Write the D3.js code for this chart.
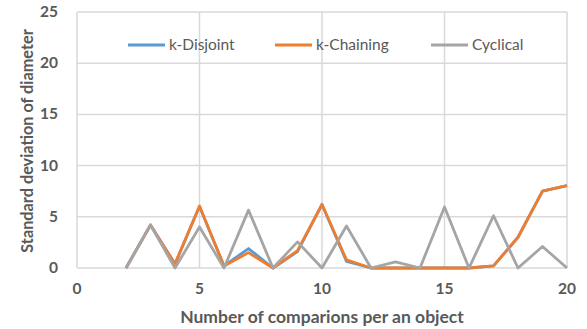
<!DOCTYPE html>
<html>
<head>
<meta charset="utf-8">
<script src="https://cdn.jsdelivr.net/npm/d3@7"></script>
<style>
  body { margin: 0; background: #fff; }
  text { font-family: Lato, "Open Sans", sans-serif; fill: #595959; }
</style>
</head>
<body>
<svg id="chart"></svg>
<script>
// data
const xValues = [2, 3, 4, 5, 6, 7, 8, 9, 10, 11, 12, 13, 14, 15, 16, 17, 18, 19, 20];
const kDisjoint = [0, 4.2, 0.4, 6.0, 0.2, 1.9, 0, 1.6, 6.2, 0.65, 0, 0, 0, 0, 0, 0.2, 3.0, 7.5, 8.05];
const kChaining = [0, 4.2, 0.4, 6.05, 0.2, 1.5, 0, 1.7, 6.2, 0.8, 0, 0, 0, 0, 0, 0.2, 3.0, 7.5, 8.05];
const cyclical = [0, 4.2, 0, 4.0, 0, 5.65, 0, 2.55, 0, 4.1, 0, 0.6, 0, 5.95, 0, 5.1, 0, 2.1, 0];
const xTicks = [0, 5, 10, 15, 20];
const yTicks = [0, 5, 10, 15, 20, 25];
const seriesNames = ["k-Disjoint", "k-Chaining", "Cyclical"];
const seriesColors = ["#5B9BD5", "#ED7D31", "#A5A5A5"];

const width = 587, height = 329;
const margin = { top: 12, right: 20, bottom: 61, left: 77 };

const svg = d3.select("#chart")
    .attr("width", width)
    .attr("height", height);

const x = d3.scaleLinear().domain([0, 20]).range([margin.left, width - margin.right]);
const y = d3.scaleLinear().domain([0, 25]).range([height - margin.bottom, margin.top]);

// gridlines
svg.append("g")
    .selectAll("line")
    .data(yTicks)
    .join("line")
    .attr("x1", x(0)).attr("x2", x(20))
    .attr("y1", d => y(d)).attr("y2", d => y(d))
    .attr("stroke", "#d9d9d9").attr("stroke-width", 1.5);

svg.append("g")
    .selectAll("line")
    .data(xTicks)
    .join("line")
    .attr("x1", d => x(d)).attr("x2", d => x(d))
    .attr("y1", y(0)).attr("y2", y(25))
    .attr("stroke", "#d9d9d9").attr("stroke-width", 1.5);

// tick labels
svg.append("g")
    .selectAll("text")
    .data(yTicks)
    .join("text")
    .attr("x", margin.left - 19)
    .attr("y", d => y(d) + 5)
    .attr("text-anchor", "end")
    .attr("font-size", 15.5)
    .attr("font-weight", "bold")
    .text(d => d);

svg.append("g")
    .selectAll("text")
    .data(xTicks)
    .join("text")
    .attr("x", d => x(d))
    .attr("y", y(0) + 26)
    .attr("text-anchor", "middle")
    .attr("font-size", 15.5)
    .attr("font-weight", "bold")
    .text(d => d);

// axis titles
svg.append("text")
    .attr("x", (x(0) + x(20)) / 2)
    .attr("y", 323)
    .attr("text-anchor", "middle")
    .attr("font-size", 17.5)
    .attr("font-weight", "bold")
    .text("Number of comparions per an object");

svg.append("text")
    .attr("transform", `translate(33, ${(y(0) + y(25)) / 2 + 1}) rotate(-90)`)
    .attr("text-anchor", "middle")
    .attr("font-size", 16.3)
    .attr("font-weight", "bold")
    .text("Standard deviation of diameter");

// series
const line = d3.line()
    .x((d, i) => x(xValues[i]))
    .y(d => y(d));

const allSeries = [kDisjoint, kChaining, cyclical];

svg.append("g")
    .selectAll("path")
    .data(allSeries)
    .join("path")
    .attr("d", line)
    .attr("fill", "none")
    .attr("stroke", (d, i) => seriesColors[i])
    .attr("stroke-width", 2.8)
    .attr("stroke-linejoin", "round");

// legend
const legendX = [128, 275, 431];
const legend = svg.append("g")
    .selectAll("g")
    .data(seriesNames)
    .join("g")
    .attr("transform", (d, i) => `translate(${legendX[i]}, 45)`);

legend.append("line")
    .attr("x1", 0).attr("x2", 37)
    .attr("stroke", (d, i) => seriesColors[i])
    .attr("stroke-width", 2.8);

legend.append("text")
    .attr("x", 41)
    .attr("y", 5)
    .attr("font-size", 15.5)
    .text(d => d);
</script>
</body>
</html>
